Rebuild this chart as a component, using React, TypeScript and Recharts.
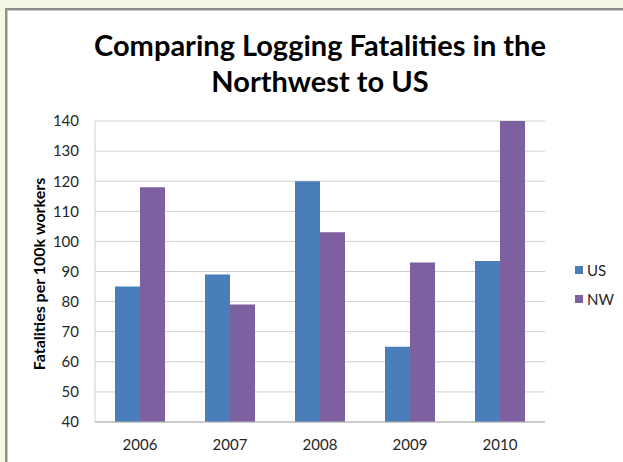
import { Bar, BarChart, CartesianGrid, XAxis, YAxis } from 'recharts'

const years = ['2006', '2007', '2008', '2009', '2010']
const usRates = [85, 89, 120, 65, 93.5]
const nwRates = [118, 79, 103, 93, 140]
const yTicks = [40, 50, 60, 70, 80, 90, 100, 110, 120, 130, 140]

const seriesList = [
  { key: 'US', color: '#4a7ebb' },
  { key: 'NW', color: '#7d60a0' },
]

const rows = years.map((year, i) => ({ year, US: usRates[i], NW: nwRates[i] }))

const font = 'Lato, "Open Sans", sans-serif'

export default function App() {
  return (
    <div
      style={{
        position: 'absolute',
        left: 0,
        top: 0,
        width: 623,
        height: 462,
        background: '#f3f7e4',
        overflow: 'hidden',
        fontFamily: font,
      }}
    >
      <div
        style={{
          position: 'absolute',
          left: 5,
          top: 8,
          width: 640,
          height: 480,
          background: '#fff',
          borderLeft: '2px solid #8f8f8f',
          borderTop: '2px solid #8f8f8f',
          boxShadow: '1px 1px 0 #c8c8c8 inset',
        }}
      />
      <div
        style={{
          position: 'absolute',
          left: 0,
          top: 27,
          width: 640,
          textAlign: 'center',
          fontSize: 29,
          fontWeight: 700,
          lineHeight: '36px',
          color: '#000',
        }}
      >
        Comparing Logging Fatalities in the
        <br />
        Northwest to US
      </div>
      <div
        style={{
          position: 'absolute',
          left: 38,
          top: 274,
          transform: 'translate(-50%, -50%) rotate(-90deg)',
          whiteSpace: 'nowrap',
          fontSize: 16,
          fontWeight: 700,
          color: '#000',
        }}
      >
        Fatalities per 100k workers
      </div>
      <div style={{ position: 'absolute', left: 0, top: 0 }}>
        <BarChart
          width={623}
          height={462}
          data={rows}
          margin={{ top: 121, right: 78, bottom: 0, left: 35 }}
          barCategoryGap={20}
          barGap={0}
        >
          <CartesianGrid vertical={false} stroke="#cfcfcf" />
          <XAxis
            dataKey="year"
            height={40}
            tickLine={false}
            axisLine={{ stroke: '#b0b0b0' }}
            tick={{ fill: '#262626', fontSize: 15, fontFamily: font }}
            tickMargin={11}
          />
          <YAxis
            width={60}
            domain={[40, 140]}
            ticks={yTicks}
            allowDataOverflow
            tickLine={false}
            axisLine={{ stroke: '#cfcfcf' }}
            tick={{ fill: '#262626', fontSize: 15, fontFamily: font }}
            tickMargin={10}
          />
          {seriesList.map((s) => (
            <Bar key={s.key} dataKey={s.key} fill={s.color} isAnimationActive={false} />
          ))}
        </BarChart>
      </div>
      {seriesList.map((s, i) => (
        <div
          key={s.key}
          style={{
            position: 'absolute',
            left: 575,
            top: 261 + i * 29,
            display: 'flex',
            alignItems: 'center',
            gap: 4,
            fontSize: 15,
            color: '#262626',
          }}
        >
          <span style={{ width: 8, height: 8, background: s.color, display: 'inline-block' }} />
          <span>{s.key}</span>
        </div>
      ))}
    </div>
  )
}
